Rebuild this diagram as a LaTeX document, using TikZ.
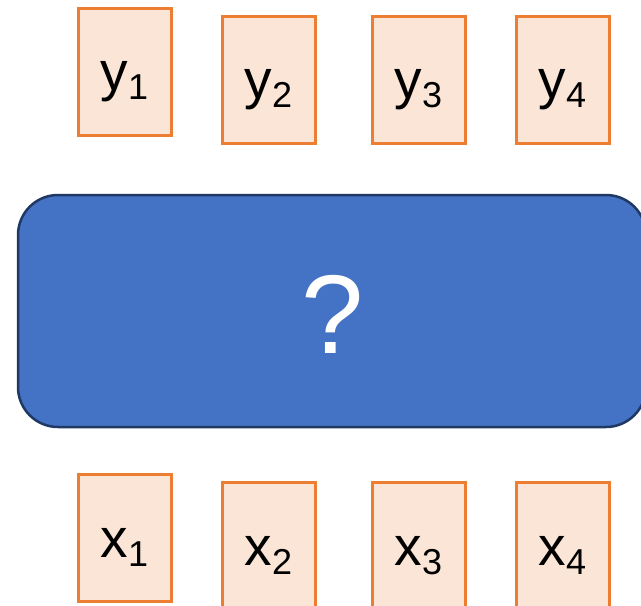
\documentclass[tikz,border=0pt]{standalone}
\usepackage{fontspec}
\setmainfont{Liberation Sans}
\definecolor{boxfill}{HTML}{FBE5D6}
\definecolor{boxline}{HTML}{ED7D31}
\definecolor{blockfill}{HTML}{4472C4}
\definecolor{blockline}{HTML}{203864}
\tikzset{
  seqbox/.style={draw=boxline, fill=boxfill, line width=3pt, minimum width=93pt, minimum height=127pt, inner sep=0pt},
  lbl/.style={anchor=base, inner sep=0pt, font=\fontsize{55}{60}\selectfont},
  block/.style={draw=blockline, fill=blockfill, line width=2.5pt, rounded corners=40pt}
}
\newcommand{\lab}[2]{#1\raisebox{-9pt}{\fontsize{36}{40}\selectfont #2}}
\begin{document}
\begin{tikzpicture}[x=1pt,y=-1pt]
\useasboundingbox (0,0) rectangle (641,606);
\clip (0,0) rectangle (641,606);
% outputs
\node[seqbox] (y1) at (124.5,71.5) {};
\node[seqbox] (y2) at (268.5,79.5) {};
\node[seqbox] (y3) at (418.5,79.5) {};
\node[seqbox] (y4) at (562.5,79.5) {};
\node[lbl] (ty1) at ([yshift=-84pt]y1.north) {\lab{y}{1}};
\node[lbl] (ty2) at ([yshift=-84pt]y2.north) {\lab{y}{2}};
\node[lbl] (ty3) at ([yshift=-84pt]y3.north) {\lab{y}{3}};
\node[lbl] (ty4) at ([yshift=-84pt]y4.north) {\lab{y}{4}};
% block
\draw[block] (18,195) rectangle (646,427);
\node[anchor=base, inner sep=0pt, font=\fontsize{112}{120}\selectfont, text=white] (q) at (333,353) {?};
% inputs
\node[seqbox] (x1) at (124.5,538) {};
\node[seqbox] (x2) at (268.5,546) {};
\node[seqbox] (x3) at (418.5,546) {};
\node[seqbox] (x4) at (562.5,546) {};
\node[lbl] (tx1) at ([yshift=-84pt]x1.north) {\lab{x}{1}};
\node[lbl] (tx2) at ([yshift=-84pt]x2.north) {\lab{x}{2}};
\node[lbl] (tx3) at ([yshift=-84pt]x3.north) {\lab{x}{3}};
\node[lbl] (tx4) at ([yshift=-84pt]x4.north) {\lab{x}{4}};
\end{tikzpicture}
\end{document}
